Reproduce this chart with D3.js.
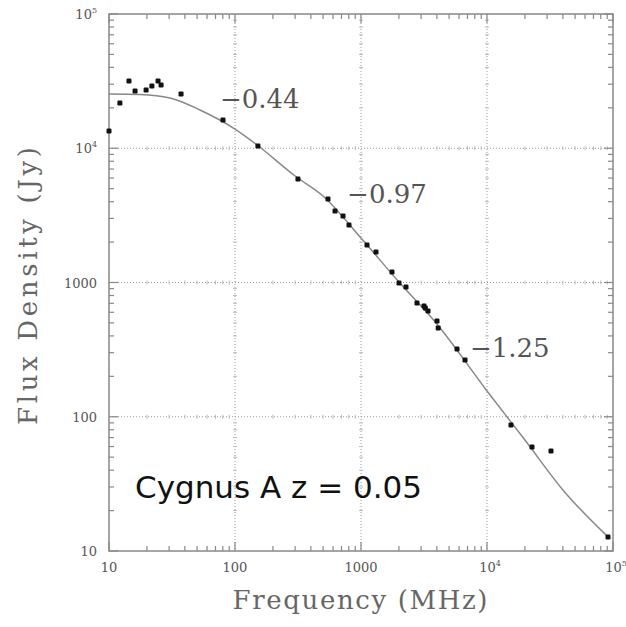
<!DOCTYPE html>
<html>
<head>
<meta charset="utf-8">
<script src="https://cdn.jsdelivr.net/npm/d3@7"></script>
<style>
  body { margin: 0; background: #fff; }
  svg { display: block; }
</style>
</head>
<body>
<svg id="chart"></svg>
<script>
// measured points (MHz, Jy)
const freqs = [10, 12.2, 14.4, 16.1, 19.7, 21.9, 24.5, 25.9, 37.3, 80.3, 152, 316, 547, 622, 720, 803,
  1116, 1315, 1762, 2003, 2276, 2782, 3162, 3240, 3404, 4010, 4100, 5780, 6690, 15500, 22760, 32200, 91300];
const fluxes = [13430, 21730, 31700, 26700, 27150, 29100, 31700, 29600, 25400, 16230, 10400, 5900, 4190, 3410, 3130, 2680,
  1903, 1687, 1197, 991, 926, 704, 668, 646, 613, 517, 458, 320, 265, 86.8, 59.5, 55.6, 12.7];

// fitted spectrum
const fitFreq = [10, 17.6, 30.5, 52.7, 100, 150, 300, 500, 1000, 2000, 4000, 10000, 20000, 40000, 90000];
const fitFlux = [25350, 25120, 23660, 19280, 13900, 10570, 6210, 4410, 2145, 1008, 491, 155.6, 67.1, 28.5, 12.9];

// spectral index labels
const slopeText = ["\u22120.44", "\u22120.97", "\u22121.25"];
const slopeFreq = [76, 776, 7320];
const slopeFlux = [19900, 3900, 278];

const xTickLabels = ["10", "100", "1000", "10|4", "10|5"];
const yTickLabels = ["10", "100", "1000", "10|4", "10|5"];
const decades = [10, 100, 1000, 10000, 100000];

const width = 626, height = 627;
const margin = { top: 14, right: 13, bottom: 76, left: 109 };

const svg = d3.select("#chart")
  .attr("width", width)
  .attr("height", height);

const x = d3.scaleLog()
  .domain([10, 1e5])
  .range([margin.left, width - margin.right]);

const y = d3.scaleLog()
  .domain([10, 1e5])
  .range([height - margin.bottom, margin.top]);

const x0 = x.range()[0], x1 = x.range()[1];
const y0 = y.range()[0], y1 = y.range()[1];

const allTicks = x.ticks();
const isMajor = v => Math.abs(Math.log10(v) - Math.round(Math.log10(v))) < 1e-6;
const inner = [100, 1000, 10000];

// dotted grid
const grid = svg.append("g").attr("stroke", "#999").attr("stroke-width", 1).attr("stroke-dasharray", "1,2");
grid.selectAll(".gx").data(inner).join("line")
  .attr("x1", d => x(d)).attr("x2", d => x(d))
  .attr("y1", y1).attr("y2", y0);
grid.selectAll(".gy").data(inner).join("line")
  .attr("y1", d => y(d)).attr("y2", d => y(d))
  .attr("x1", x0).attr("x2", x1);

// small ticks along the grid lines
const gt = svg.append("g").attr("stroke", "#bbb").attr("stroke-width", 1);
inner.forEach(g => {
  gt.append("g").selectAll("line").data(allTicks.filter(v => !isMajor(v))).join("line")
    .attr("x1", d => x(d)).attr("x2", d => x(d))
    .attr("y1", y(g) - 2).attr("y2", y(g) + 2);
  gt.append("g").selectAll("line").data(allTicks.filter(v => !isMajor(v))).join("line")
    .attr("y1", d => y(d)).attr("y2", d => y(d))
    .attr("x1", x(g) - 2).attr("x2", x(g) + 2);
});

// frame
svg.append("rect")
  .attr("x", x0).attr("y", y1)
  .attr("width", x1 - x0).attr("height", y0 - y1)
  .attr("fill", "none").attr("stroke", "#888").attr("stroke-width", 1.5);

// inward ticks on all four sides
const tickLen = d => isMajor(d) ? 9 : 5;
const ticks = svg.append("g").attr("stroke", "#888").attr("stroke-width", 1.2);
ticks.selectAll(".tb").data(allTicks).join("line")
  .attr("x1", d => x(d)).attr("x2", d => x(d))
  .attr("y1", y0).attr("y2", d => y0 - tickLen(d));
ticks.selectAll(".tt").data(allTicks).join("line")
  .attr("x1", d => x(d)).attr("x2", d => x(d))
  .attr("y1", y1).attr("y2", d => y1 + tickLen(d));
ticks.selectAll(".tl").data(y.ticks()).join("line")
  .attr("y1", d => y(d)).attr("y2", d => y(d))
  .attr("x1", x0).attr("x2", d => x0 + tickLen(d));
ticks.selectAll(".tr").data(y.ticks()).join("line")
  .attr("y1", d => y(d)).attr("y2", d => y(d))
  .attr("x1", x1).attr("x2", d => x1 - tickLen(d));

// tick labels
function addLabel(sel, label) {
  const parts = label.split("|");
  sel.append("tspan").text(parts[0]);
  if (parts[1]) {
    sel.append("tspan").attr("font-size", 8).attr("dy", -6).text(parts[1]);
  }
}
const tickFont = "'DejaVu Serif', serif";
decades.forEach((d, i) => {
  const t = svg.append("text")
    .attr("x", 97).attr("y", y(d) + 5)
    .attr("text-anchor", "end")
    .attr("font-family", tickFont).attr("font-size", 13).attr("fill", "#555");
  addLabel(t, yTickLabels[i]);
  const b = svg.append("text")
    .attr("x", x(d) + (xTickLabels[i].includes("|") ? 3 : 0)).attr("y", 572)
    .attr("text-anchor", "middle")
    .attr("font-family", tickFont).attr("font-size", 13).attr("fill", "#555");
  addLabel(b, xTickLabels[i]);
});

// fit curve
const line = d3.line()
  .x(d => x(d[0]))
  .y(d => y(d[1]))
  .curve(d3.curveMonotoneX);
svg.append("path")
  .datum(fitFreq.map((f, i) => [f, fitFlux[i]]))
  .attr("d", line)
  .attr("fill", "none")
  .attr("stroke", "#888")
  .attr("stroke-width", 1.5);

// data points
svg.append("g").selectAll("rect")
  .data(freqs.map((f, i) => [f, fluxes[i]]))
  .join("rect")
  .attr("x", d => x(d[0]) - 2.5)
  .attr("y", d => y(d[1]) - 2.5)
  .attr("width", 5).attr("height", 5)
  .attr("rx", 1.2)
  .attr("fill", "#111");

// spectral index labels
svg.append("g").selectAll("text")
  .data(slopeText)
  .join("text")
  .attr("x", (d, i) => x(slopeFreq[i]))
  .attr("y", (d, i) => y(slopeFlux[i]))
  .attr("font-family", tickFont)
  .attr("font-size", 26)
  .attr("fill", "#555")
  .text(d => d);

// axis titles
svg.append("text")
  .attr("x", 360).attr("y", 609)
  .attr("text-anchor", "middle")
  .attr("font-family", tickFont).attr("font-size", 26).attr("fill", "#666")
  .attr("textLength", 255).attr("lengthAdjust", "spacing")
  .text("Frequency (MHz)");

svg.append("text")
  .attr("transform", "translate(37,286) rotate(-90)")
  .attr("text-anchor", "middle")
  .attr("font-family", tickFont).attr("font-size", 26).attr("fill", "#666")
  .attr("textLength", 278).attr("lengthAdjust", "spacing")
  .text("Flux Density (Jy)");

// source name
svg.append("text")
  .attr("x", 135).attr("y", 498)
  .attr("font-family", "'DejaVu Sans', sans-serif")
  .attr("font-size", 31)
  .attr("fill", "#111")
  .text("Cygnus A z = 0.05");
</script>
</body>
</html>
